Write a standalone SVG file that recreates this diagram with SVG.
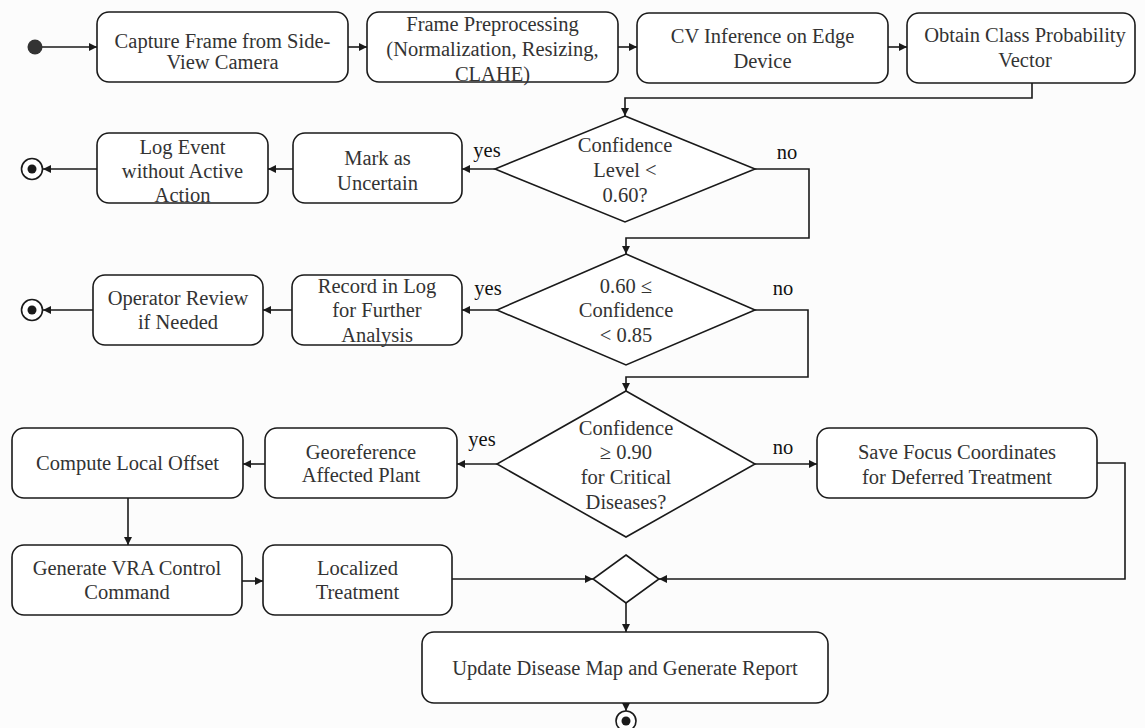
<svg xmlns="http://www.w3.org/2000/svg" width="1145" height="728" viewBox="0 0 1145 728">
<style>
  .box { fill: #ffffff; stroke: #1a1a1a; stroke-width: 1.6; }
  .dia { fill: #ffffff; stroke: #1a1a1a; stroke-width: 1.6; }
  .t { font-family: "Liberation Serif", "Times New Roman", serif; font-size: 20.5px; fill: #333333; text-anchor: middle; }
  .lbl { font-family: "Liberation Serif", "Times New Roman", serif; font-size: 20.5px; fill: #111111; text-anchor: middle; }
  .c { fill: none; stroke: #1a1a1a; stroke-width: 1.6; }
  .ca { fill: none; stroke: #1a1a1a; stroke-width: 1.6; marker-end: url(#arr); }
</style>
<defs>
  <marker id="arr" viewBox="0 0 10 10" refX="10" refY="5" markerWidth="9" markerHeight="8" markerUnits="userSpaceOnUse" orient="auto">
    <path d="M0,0 L10,5 L0,10 z" fill="#1a1a1a"/>
  </marker>
</defs>
<rect x="0" y="0" width="1145" height="728" fill="#fcfcfc"/>

<g id="connectors">
  <line class="ca" x1="42" y1="47" x2="97" y2="47"/>
  <line class="ca" x1="348" y1="47" x2="367" y2="47"/>
  <line class="ca" x1="618" y1="47" x2="637" y2="47"/>
  <line class="ca" x1="888" y1="47" x2="907" y2="47"/>
  <polyline class="ca" points="1032,83 1032,98 625,98 625,116"/>
  <!-- decision 1 -->
  <line class="ca" x1="495" y1="169" x2="462" y2="169"/>
  <line class="ca" x1="293" y1="169" x2="268" y2="169"/>
  <line class="ca" x1="97" y1="169" x2="43" y2="169"/>
  <polyline class="ca" points="755,169 809,169 809,238 626,238 626,254"/>
  <!-- decision 2 -->
  <line class="ca" x1="497" y1="310" x2="462" y2="310"/>
  <line class="ca" x1="292" y1="310" x2="263" y2="310"/>
  <line class="ca" x1="93" y1="310" x2="43" y2="310"/>
  <polyline class="ca" points="755,310 808,310 808,377 626,377 626,391"/>
  <!-- decision 3 -->
  <line class="ca" x1="497" y1="464" x2="457" y2="464"/>
  <line class="ca" x1="265" y1="464" x2="243" y2="464"/>
  <line class="ca" x1="128" y1="498" x2="128" y2="545"/>
  <line class="ca" x1="242" y1="581" x2="263" y2="581"/>
  <line class="ca" x1="452" y1="579" x2="593" y2="579"/>
  <line class="ca" x1="755" y1="464" x2="817" y2="464"/>
  <polyline class="ca" points="1097,463 1125,463 1125,579 659,579"/>
  <line class="ca" x1="626" y1="603" x2="626" y2="632"/>
  <line class="ca" x1="626" y1="703" x2="626" y2="711"/>
  <!-- labels -->
  <text class="lbl" x="487" y="157">yes</text>
  <text class="lbl" x="787" y="159">no</text>
  <text class="lbl" x="488" y="295">yes</text>
  <text class="lbl" x="783" y="295">no</text>
  <text class="lbl" x="482" y="446">yes</text>
  <text class="lbl" x="783" y="454">no</text>
</g>

<g id="start"><circle cx="35" cy="47" r="7.5" fill="#333333"/></g>

<g id="n1"><rect class="box" x="97" y="12" width="251" height="70" rx="12"/>
  <text class="t" x="222.5" y="48">Capture Frame from Side-</text>
  <text class="t" x="222.5" y="69">View Camera</text></g>
<g id="n2"><rect class="box" x="367" y="12" width="251" height="70" rx="12"/>
  <text class="t" x="492.5" y="31">Frame Preprocessing</text>
  <text class="t" x="492.5" y="56">(Normalization, Resizing,</text>
  <text class="t" x="492.5" y="81">CLAHE)</text></g>
<g id="n3"><rect class="box" x="637" y="13" width="251" height="70" rx="12"/>
  <text class="t" x="762.5" y="43">CV Inference on Edge</text>
  <text class="t" x="762.5" y="68">Device</text></g>
<g id="n4"><rect class="box" x="907" y="13" width="228" height="70" rx="12"/>
  <text class="t" x="1025" y="42">Obtain Class Probability</text>
  <text class="t" x="1025" y="67">Vector</text></g>

<g id="d1"><polygon class="dia" points="625,116 755,169 625,222 495,169"/>
  <text class="t" x="625" y="152">Confidence</text>
  <text class="t" x="625" y="177">Level &lt;</text>
  <text class="t" x="625" y="202">0.60?</text></g>
<g id="n5"><rect class="box" x="293" y="133" width="169" height="70" rx="12"/>
  <text class="t" x="377.5" y="165">Mark as</text>
  <text class="t" x="377.5" y="190">Uncertain</text></g>
<g id="n6"><rect class="box" x="97" y="133" width="171" height="70" rx="12"/>
  <text class="t" x="182.5" y="154">Log Event</text>
  <text class="t" x="182.5" y="178">without Active</text>
  <text class="t" x="182.5" y="202">Action</text></g>
<g id="end1"><circle cx="32" cy="169" r="10.5" fill="#ffffff" stroke="#1a1a1a" stroke-width="1.6"/><circle cx="32" cy="169" r="4.5" fill="#1a1a1a"/></g>

<g id="d2"><polygon class="dia" points="626,254 755,310 626,365 497,310"/>
  <text class="t" x="626" y="293">0.60 ≤</text>
  <text class="t" x="626" y="317">Confidence</text>
  <text class="t" x="626" y="342">&lt; 0.85</text></g>
<g id="n7"><rect class="box" x="292" y="275" width="170" height="70" rx="12"/>
  <text class="t" x="377" y="293">Record in Log</text>
  <text class="t" x="377" y="317">for Further</text>
  <text class="t" x="377" y="342">Analysis</text></g>
<g id="n8"><rect class="box" x="93" y="275" width="170" height="70" rx="12"/>
  <text class="t" x="178" y="305">Operator Review</text>
  <text class="t" x="178" y="329">if Needed</text></g>
<g id="end2"><circle cx="32" cy="310" r="10.5" fill="#ffffff" stroke="#1a1a1a" stroke-width="1.6"/><circle cx="32" cy="310" r="4.5" fill="#1a1a1a"/></g>

<g id="d3"><polygon class="dia" points="626,391 755,464 626,537 497,464"/>
  <text class="t" x="626" y="435">Confidence</text>
  <text class="t" x="626" y="459">≥ 0.90</text>
  <text class="t" x="626" y="484">for Critical</text>
  <text class="t" x="626" y="509">Diseases?</text></g>
<g id="n9"><rect class="box" x="265" y="428" width="192" height="70" rx="12"/>
  <text class="t" x="361" y="459">Georeference</text>
  <text class="t" x="361" y="482">Affected Plant</text></g>
<g id="n10"><rect class="box" x="12" y="428" width="231" height="70" rx="12"/>
  <text class="t" x="127.5" y="470">Compute Local Offset</text></g>
<g id="n11"><rect class="box" x="12" y="545" width="230" height="70" rx="12"/>
  <text class="t" x="127" y="575">Generate VRA Control</text>
  <text class="t" x="127" y="599">Command</text></g>
<g id="n12"><rect class="box" x="263" y="545" width="189" height="70" rx="12"/>
  <text class="t" x="357.5" y="575">Localized</text>
  <text class="t" x="357.5" y="599">Treatment</text></g>
<g id="n13"><rect class="box" x="817" y="428" width="280" height="70" rx="12"/>
  <text class="t" x="957" y="459">Save Focus Coordinates</text>
  <text class="t" x="957" y="484">for Deferred Treatment</text></g>
<g id="merge"><polygon class="dia" points="626,555 659,579 626,603 593,579"/></g>
<g id="n14"><rect class="box" x="422" y="632" width="406" height="71" rx="12"/>
  <text class="t" x="625" y="675">Update Disease Map and Generate Report</text></g>
<g id="end3"><circle cx="626" cy="721" r="10" fill="#ffffff" stroke="#1a1a1a" stroke-width="1.6"/><circle cx="626" cy="721" r="4.5" fill="#1a1a1a"/></g>
</svg>
